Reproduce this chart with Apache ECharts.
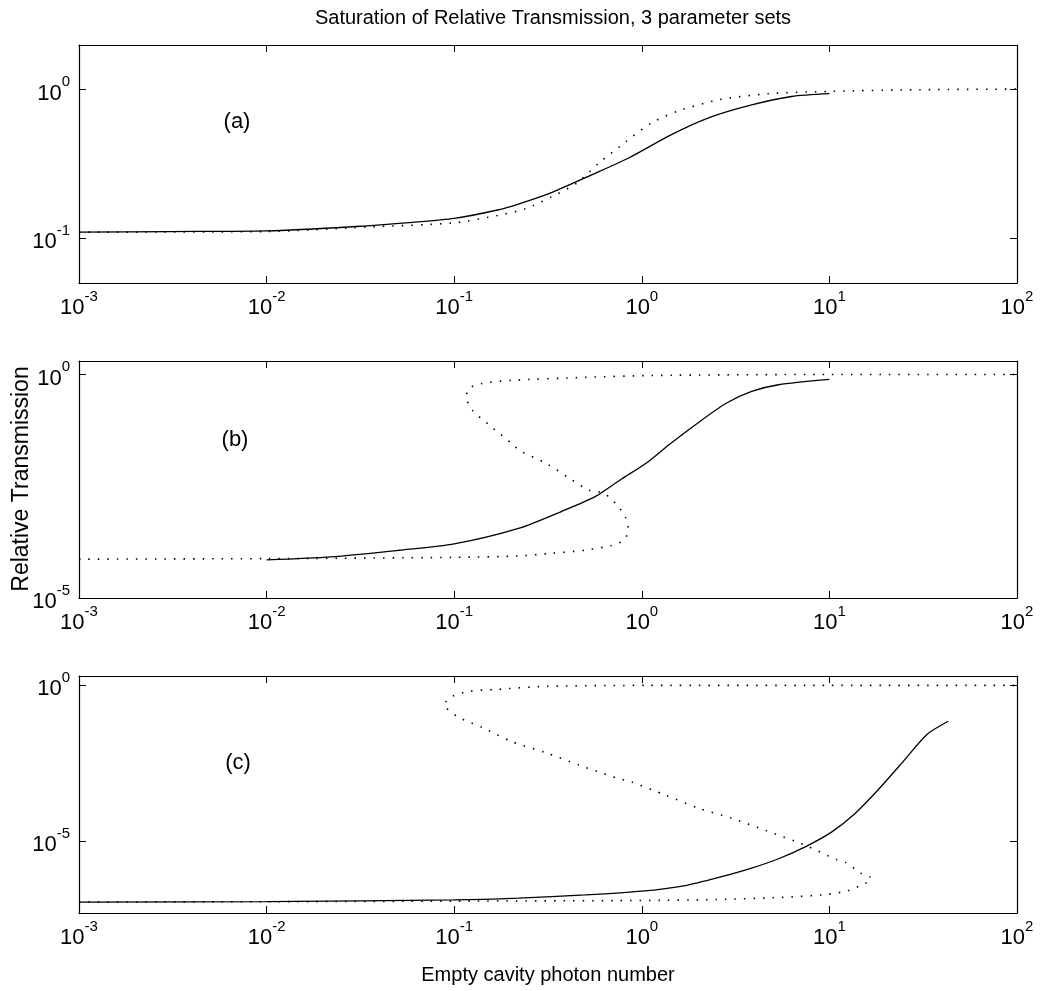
<!DOCTYPE html>
<html>
<head>
<meta charset="utf-8">
<script src="https://cdn.jsdelivr.net/npm/echarts@6/dist/echarts.min.js"></script>
<style>
html,body{margin:0;padding:0;background:#fff}
#main{width:1045px;height:991px}
</style>
</head>
<body>
<div id="main"></div>
<script>
// x tick values (photon number) and y tick values per panel
var xTicks = [0.001, 0.01, 0.1, 1, 10, 100];
var yTicksA = [0.1, 1];
var yTicksB = [0.00001, 1];
var yTicksC = [0.00001, 1];
var panelNames = ['(a)', '(b)', '(c)'];

// (a) solid / dotted
var aSolidX = [0.001, 0.003, 0.01, 0.03, 0.06, 0.1, 0.17, 0.22, 0.33, 0.54, 0.85, 1.43, 2.27, 3.85, 6.28, 10];
var aSolidY = [0.110, 0.111, 0.112, 0.120, 0.128, 0.136, 0.155, 0.17, 0.203, 0.267, 0.347, 0.497, 0.647, 0.79, 0.90, 0.94];
var aDotX = [0.001, 0.01, 0.034, 0.1, 0.173, 0.24, 0.33, 0.45, 0.59, 0.82, 1.13, 1.57, 2.57, 4.7, 10, 30, 100];
var aDotY = [0.110, 0.111, 0.119, 0.127, 0.143, 0.158, 0.19, 0.235, 0.32, 0.445, 0.60, 0.72, 0.855, 0.94, 0.975, 1.0, 1.01];

// (b) solid / dotted (dotted folds back: bistable branch)
var bSolidX = [0.01, 0.022, 0.051, 0.1, 0.22, 0.375, 0.57, 0.78, 1.05, 1.39, 1.94, 2.8, 3.85, 5.35, 10];
var bSolidY = [7.1e-5, 8.3e-5, 1.17e-4, 1.62e-4, 3.6e-4, 8.7e-4, 1.9e-3, 4.6e-3, 0.0102, 0.0263, 0.076, 0.224, 0.417, 0.589, 0.776];
var bDotX = [0.001, 0.01, 0.1, 0.22, 0.33, 0.50, 0.69, 0.80, 0.85, 0.82, 0.755, 0.63, 0.52, 0.41, 0.31, 0.222, 0.208, 0.159, 0.125, 0.116, 0.12, 0.141, 0.204, 0.50, 1.13, 10, 100];
var bDotY = [7.4e-5, 7.6e-5, 8.1e-5, 8.7e-5, 1e-4, 1.17e-4, 1.5e-4, 1.95e-4, 3.3e-4, 6.2e-4, 1.07e-3, 2.2e-3, 2.6e-3, 4.8e-3, 0.0102, 0.02, 0.026, 0.066, 0.158, 0.31, 0.49, 0.63, 0.74, 0.86, 0.95, 1.0, 1.0];

// (c) solid / dotted
var cSolidX = [0.001, 0.01, 0.1, 0.22, 0.5, 1.0, 1.71, 2.57, 3.85, 5.36, 7.43, 10.3, 13.7, 18.2, 24.3, 33, 43];
var cSolidY = [1.12e-7, 1.15e-7, 1.32e-7, 1.51e-7, 1.9e-7, 2.5e-7, 3.8e-7, 6.9e-7, 1.38e-6, 2.75e-6, 6.6e-6, 2.0e-5, 7.8e-5, 4.5e-4, 3.2e-3, 0.0263, 0.0708];
var cDotX = [0.001, 0.01, 0.1, 1.0, 2.48, 5.56, 9.5, 12.6, 15.5, 16.7, 16.5, 14.8, 12.2, 10.9, 7.45, 4.57, 3.01, 2.01, 1.34, 0.885, 0.736, 0.612, 0.462, 0.308, 0.204, 0.141, 0.104, 0.0885, 0.098, 0.12, 0.167, 0.308, 1.07, 10, 100];
var cDotY = [1.12e-7, 1.15e-7, 1.2e-7, 1.26e-7, 1.35e-7, 1.58e-7, 1.95e-7, 2.6e-7, 4.5e-7, 5.5e-7, 7.1e-7, 9.3e-7, 2.1e-6, 2.6e-6, 7.4e-6, 2.24e-5, 5.5e-5, 1.15e-4, 3.0e-4, 7.9e-4, 1.07e-3, 1.55e-3, 2.8e-3, 6.9e-3, 0.0155, 0.0447, 0.1, 0.245, 0.447, 0.646, 0.74, 0.93, 1.0, 1.0, 1.0];

var FONT = '"Liberation Sans", Arial, sans-serif';

function pairs(xs, ys) {
    return xs.map(function (x, i) { return [x, ys[i]]; });
}

function powLabel(v) {
    var e = Math.round(Math.log10(v));
    return '{b|10}{s|' + e + '}';
}

var labelRich = {
    b: { fontSize: 22, fontFamily: FONT, color: '#000', lineHeight: 30, verticalAlign: 'bottom' },
    s: { fontSize: 15, fontFamily: FONT, color: '#000', lineHeight: 15, verticalAlign: 'top' }
};

var grids = [
    { left: 79, right: 28, top: 45, height: 238, containLabel: false, outerBoundsMode: 'none' },
    { left: 79, right: 28, top: 361, height: 237, containLabel: false, outerBoundsMode: 'none' },
    { left: 79, right: 28, top: 676, height: 237, containLabel: false, outerBoundsMode: 'none' }
];
var yRanges = [[0.05, 2], [0.00001, 2], [5e-8, 2]];
var yTickSets = [yTicksA, yTicksB, yTicksC];

var xAxes = [], yAxes = [];
grids.forEach(function (g, i) {
    var tick = { show: true, inside: true, length: 7, lineStyle: { color: '#000', width: 1 } };
    var line = { show: true, onZero: false, lineStyle: { color: '#000', width: 1.2 } };
    xAxes.push({
        type: 'log', logBase: 10, gridIndex: i, position: 'bottom',
        min: 0.001, max: 100,
        axisLine: line,
        axisTick: Object.assign({ customValues: xTicks }, tick),
        axisLabel: { customValues: xTicks, formatter: powLabel, rich: labelRich, margin: 6 },
        splitLine: { show: false },
        name: i === 2 ? 'Empty cavity photon number' : '',
        nameLocation: 'middle', nameGap: 52,
        nameTextStyle: { fontSize: 20, fontFamily: FONT, color: '#000' }
    });
    xAxes.push({
        type: 'log', logBase: 10, gridIndex: i, position: 'top',
        min: 0.001, max: 100,
        axisLine: line,
        axisTick: Object.assign({ customValues: xTicks }, tick),
        axisLabel: { show: false },
        splitLine: { show: false }
    });
    yAxes.push({
        type: 'log', logBase: 10, gridIndex: i, position: 'left',
        min: yRanges[i][0], max: yRanges[i][1],
        axisLine: line,
        axisTick: Object.assign({ customValues: yTickSets[i] }, tick),
        axisLabel: { customValues: yTickSets[i], formatter: powLabel, rich: labelRich, margin: 9 },
        splitLine: { show: false }
    });
    yAxes.push({
        type: 'log', logBase: 10, gridIndex: i, position: 'right',
        min: yRanges[i][0], max: yRanges[i][1],
        axisLine: line,
        axisTick: Object.assign({ customValues: yTickSets[i] }, tick),
        axisLabel: { show: false },
        splitLine: { show: false }
    });
});

function lineSeries(i, data, dotted) {
    return {
        type: 'line', xAxisIndex: i * 2, yAxisIndex: i * 2,
        data: data, showSymbol: false, smooth: 0.25, silent: true,
        lineStyle: dotted
            ? { color: '#000', width: 1.6, type: [1.5, 8] }
            : { color: '#000', width: 1.3 }
    };
}

var option = {
    backgroundColor: '#fff',
    animation: false,
    title: {
        text: 'Saturation of Relative Transmission, 3 parameter sets',
        left: 548, top: 3, textAlign: 'center',
        textStyle: { fontSize: 20, fontWeight: 'normal', fontFamily: FONT, color: '#000' }
    },
    grid: grids,
    xAxis: xAxes,
    yAxis: yAxes,
    graphic: [
        // shared y axis title, centred on panel (b)
        { type: 'text', x: 22, y: 479, rotation: Math.PI / 2, style: { text: 'Relative Transmission', font: '23px ' + FONT, fill: '#000', align: 'center', verticalAlign: 'middle' } },
        { type: 'text', x: 237, y: 122, style: { text: panelNames[0], font: '22px ' + FONT, fill: '#000', align: 'center', verticalAlign: 'middle' } },
        { type: 'text', x: 235, y: 440, style: { text: panelNames[1], font: '22px ' + FONT, fill: '#000', align: 'center', verticalAlign: 'middle' } },
        { type: 'text', x: 238, y: 763, style: { text: panelNames[2], font: '22px ' + FONT, fill: '#000', align: 'center', verticalAlign: 'middle' } }
    ],
    series: [
        lineSeries(0, pairs(aSolidX, aSolidY), false),
        lineSeries(0, pairs(aDotX, aDotY), true),
        lineSeries(1, pairs(bSolidX, bSolidY), false),
        lineSeries(1, pairs(bDotX, bDotY), true),
        lineSeries(2, pairs(cSolidX, cSolidY), false),
        lineSeries(2, pairs(cDotX, cDotY), true)
    ]
};

var myChart = echarts.init(document.getElementById('main'));
myChart.setOption(option);
</script>
</body>
</html>
